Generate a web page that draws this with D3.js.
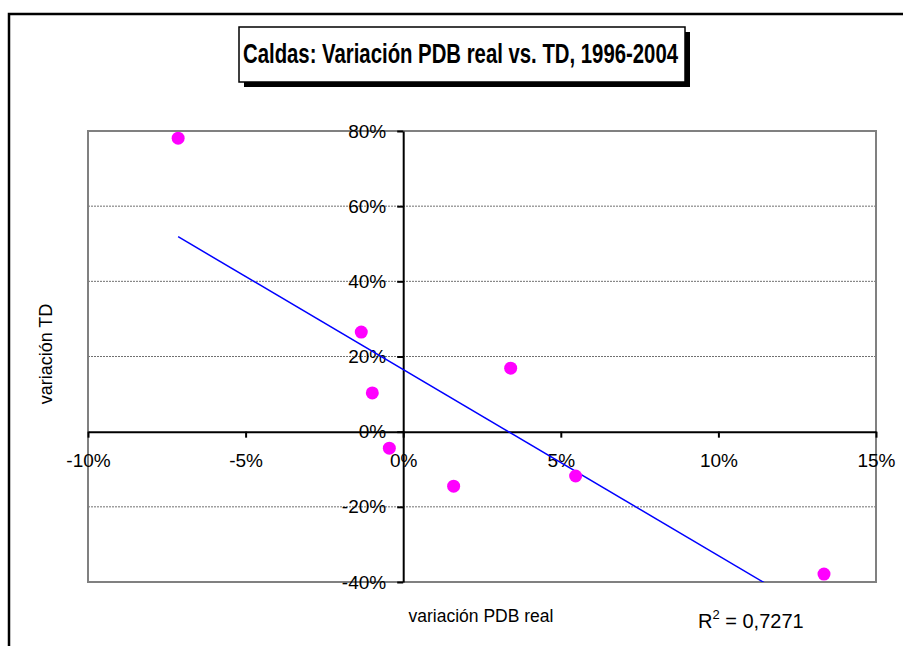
<!DOCTYPE html>
<html>
<head>
<meta charset="utf-8">
<script src="https://cdn.jsdelivr.net/npm/d3@7"></script>
<style>
  body { margin: 0; background: #fff; }
  svg { display: block; font-family: "Liberation Sans", Arial, sans-serif; }
  .axis path, .axis line { stroke: #000; stroke-width: 2; }
  .axis text { font-size: 19px; fill: #000; }
  .grid line { stroke: #707070; stroke-width: 1; stroke-dasharray: 2,1; }
</style>
</head>
<body>
<svg width="903" height="646"></svg>
<script>
// variación PDB real (%) vs variación TD (%)
var pdb = [-7.14, -1.33, -0.98, -0.44, 1.60, 3.41, 5.47, 13.35];
var td  = [78.1, 26.5, 10.3, -4.4, -14.5, 16.9, -11.8, -37.9];
var xTicks = [-10, -5, 0, 5, 10, 15];
var yTicks = [-40, -20, 0, 20, 40, 60, 80];
var titleText = "Caldas: Variación PDB real vs. TD, 1996-2004";
var r2Text = "0,7271";

var svg = d3.select("svg"),
    plot = {left: 88, right: 876, top: 131, bottom: 582};

var x = d3.scaleLinear().domain([-10, 15]).range([plot.left, plot.right]);
var y = d3.scaleLinear().domain([-40, 80]).range([plot.bottom, plot.top]);

// outer frame (runs off the right and bottom edges)
svg.append("rect")
    .attr("x", 9).attr("y", 14)
    .attr("width", 1000).attr("height", 1000)
    .attr("fill", "none").attr("stroke", "#000").attr("stroke-width", 2.5);

// gridlines
svg.append("g")
    .attr("class", "grid")
  .selectAll("line")
  .data(yTicks.filter(function(d) { return d !== 0; }))
  .enter().append("line")
    .attr("x1", plot.left).attr("x2", plot.right)
    .attr("y1", function(d) { return y(d); })
    .attr("y2", function(d) { return y(d); });

// plot area border
svg.append("rect")
    .attr("x", plot.left).attr("y", plot.top)
    .attr("width", plot.right - plot.left).attr("height", plot.bottom - plot.top)
    .attr("fill", "none").attr("stroke", "#808080").attr("stroke-width", 2);

// axes through zero
svg.append("g")
    .attr("class", "axis")
    .attr("transform", "translate(0," + y(0) + ")")
    .call(d3.axisBottom(x).tickValues(xTicks).tickSize(6).tickPadding(16)
      .tickSizeOuter(0).tickFormat(function(d) { return d + "%"; }));

svg.append("g")
    .attr("class", "axis")
    .attr("transform", "translate(" + x(0) + ",0)")
    .call(d3.axisLeft(y).tickValues(yTicks).tickSize(6).tickPadding(11)
      .tickSizeOuter(0).tickFormat(function(d) { return d + "%"; }));

// linear trend line (least squares)
var mx = d3.mean(pdb), my = d3.mean(td);
var sxy = d3.sum(pdb, function(v, i) { return (v - mx) * (td[i] - my); });
var sxx = d3.sum(pdb, function(v) { return (v - mx) * (v - mx); });
var slope = sxy / sxx, icpt = my - slope * mx;
var x0 = d3.min(pdb), x1 = d3.max(pdb);

svg.append("clipPath").attr("id", "clip")
  .append("rect")
    .attr("x", plot.left).attr("y", plot.top)
    .attr("width", plot.right - plot.left).attr("height", plot.bottom - plot.top);

svg.append("line")
    .attr("clip-path", "url(#clip)")
    .attr("x1", x(x0)).attr("y1", y(slope * x0 + icpt))
    .attr("x2", x(x1)).attr("y2", y(slope * x1 + icpt))
    .attr("stroke", "#0000ff").attr("stroke-width", 1.5);

// points
svg.append("g")
  .selectAll("circle")
  .data(pdb)
  .enter().append("circle")
    .attr("cx", function(d) { return x(d); })
    .attr("cy", function(d, i) { return y(td[i]); })
    .attr("r", 6.5)
    .attr("fill", "#ff00ff");

// title box with shadow
svg.append("rect")
    .attr("x", 244).attr("y", 32).attr("width", 446).attr("height", 55)
    .attr("fill", "#000");
svg.append("rect")
    .attr("x", 239).attr("y", 27).attr("width", 446).attr("height", 55)
    .attr("fill", "#fff").attr("stroke", "#000").attr("stroke-width", 1.5);
svg.append("text")
    .attr("x", 243).attr("y", 63)
    .attr("textLength", 435).attr("lengthAdjust", "spacingAndGlyphs")
    .style("font-family", "'Liberation Sans Narrow', 'Arial Narrow', 'Liberation Sans', sans-serif")
    .style("font-weight", "bold").style("font-size", "27px")
    .text(titleText);

// axis titles
svg.append("text")
    .attr("transform", "translate(52,354) rotate(-90)")
    .attr("text-anchor", "middle")
    .style("font-size", "18px")
    .text("variación TD");

svg.append("text")
    .attr("x", 481).attr("y", 622)
    .attr("text-anchor", "middle")
    .style("font-size", "17.5px")
    .text("variación PDB real");

// R squared
var r2 = svg.append("text")
    .attr("x", 698).attr("y", 628)
    .style("font-size", "20px");
r2.append("tspan").text("R");
r2.append("tspan").attr("dy", -9).style("font-size", "13px").text("2");
r2.append("tspan").attr("dy", 9).text(" = " + r2Text);
</script>
</body>
</html>
